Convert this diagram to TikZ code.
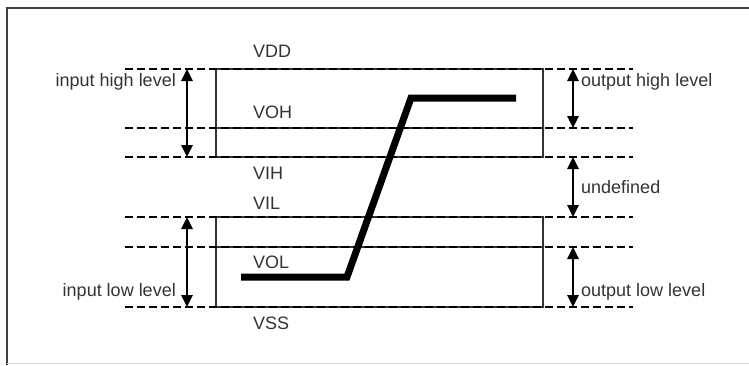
\documentclass[tikz,border=0pt]{standalone}
\usepackage{fontspec}
\setmainfont{Liberation Sans}
\usetikzlibrary{arrows.meta}
\begin{document}
\begin{tikzpicture}[x=1pt,y=-1pt,
  lvl/.style={dashed,dash pattern=on 8pt off 4pt,line width=2.2pt,black},
  boxl/.style={line width=1.7pt,black!80},
  dbl/.style={line width=2.6pt,{Triangle[length=12pt,width=11pt]}-{Triangle[length=12pt,width=11pt]}},
  lab/.style={font=\fontsize{18}{20}\selectfont,text=black!80,inner sep=0pt},
  curve/.style={line width=7pt,black}]
\useasboundingbox (0,0) rectangle (749,365);
\draw[line width=2pt,black!75] (7,365) -- (7,8) -- (749,8);
\draw[line width=0.8pt,black!15] (7,363) -- (749,363);
% level coordinates
\foreach \n/\y in {dd/69,oh/128,ih/157,il/217,ol/247,ss/307}{
  \coordinate (L\n) at (125,\y);
  \coordinate (R\n) at (633,\y);
  \coordinate (A\n) at (187,\y);
  \coordinate (B\n) at (573,\y);
}
% boxes
\draw[boxl] (216,69) rectangle (543,157);
\draw[boxl] (216,128) -- (543,128);
\draw[boxl] (216,217) rectangle (543,307);
\draw[boxl] (216,247) -- (543,247);
% dashed levels
\foreach \n in {dd,oh,ih,il,ol,ss}{ \draw[lvl] (L\n) -- (R\n); }
% arrows
\draw[dbl] (Add) -- (Aih);
\draw[dbl] (Ail) -- (Ass);
\draw[dbl] (Bdd) -- (Boh);
\draw[dbl] (Bih) -- (Bil);
\draw[dbl] (Bol) -- (Bss);
% labels
\node[lab,anchor=east] (inhigh) at (176,82) {input high level};
\node[lab,anchor=east] (inlow) at (176,292) {input low level};
\node[lab,anchor=west] (outhigh) at (581,82) {output high level};
\node[lab,anchor=west] (undef) at (581,187) {undefined};
\node[lab,anchor=west] (outlow) at (581,292) {output low level};
\node[lab,anchor=west] (vdd) at (253,51) {VDD};
\node[lab,anchor=west] (voh) at (253,112) {VOH};
\node[lab,anchor=west] (vih) at (253,173) {VIH};
\node[lab,anchor=west] (vil) at (253,203) {VIL};
\node[lab,anchor=west] (vol) at (253,262) {VOL};
\node[lab,anchor=west] (vss) at (253,323) {VSS};
% transfer curve
\draw[curve] (241,277) -- (347,277) -- (411,98) -- (516,98);
\end{tikzpicture}
\end{document}
